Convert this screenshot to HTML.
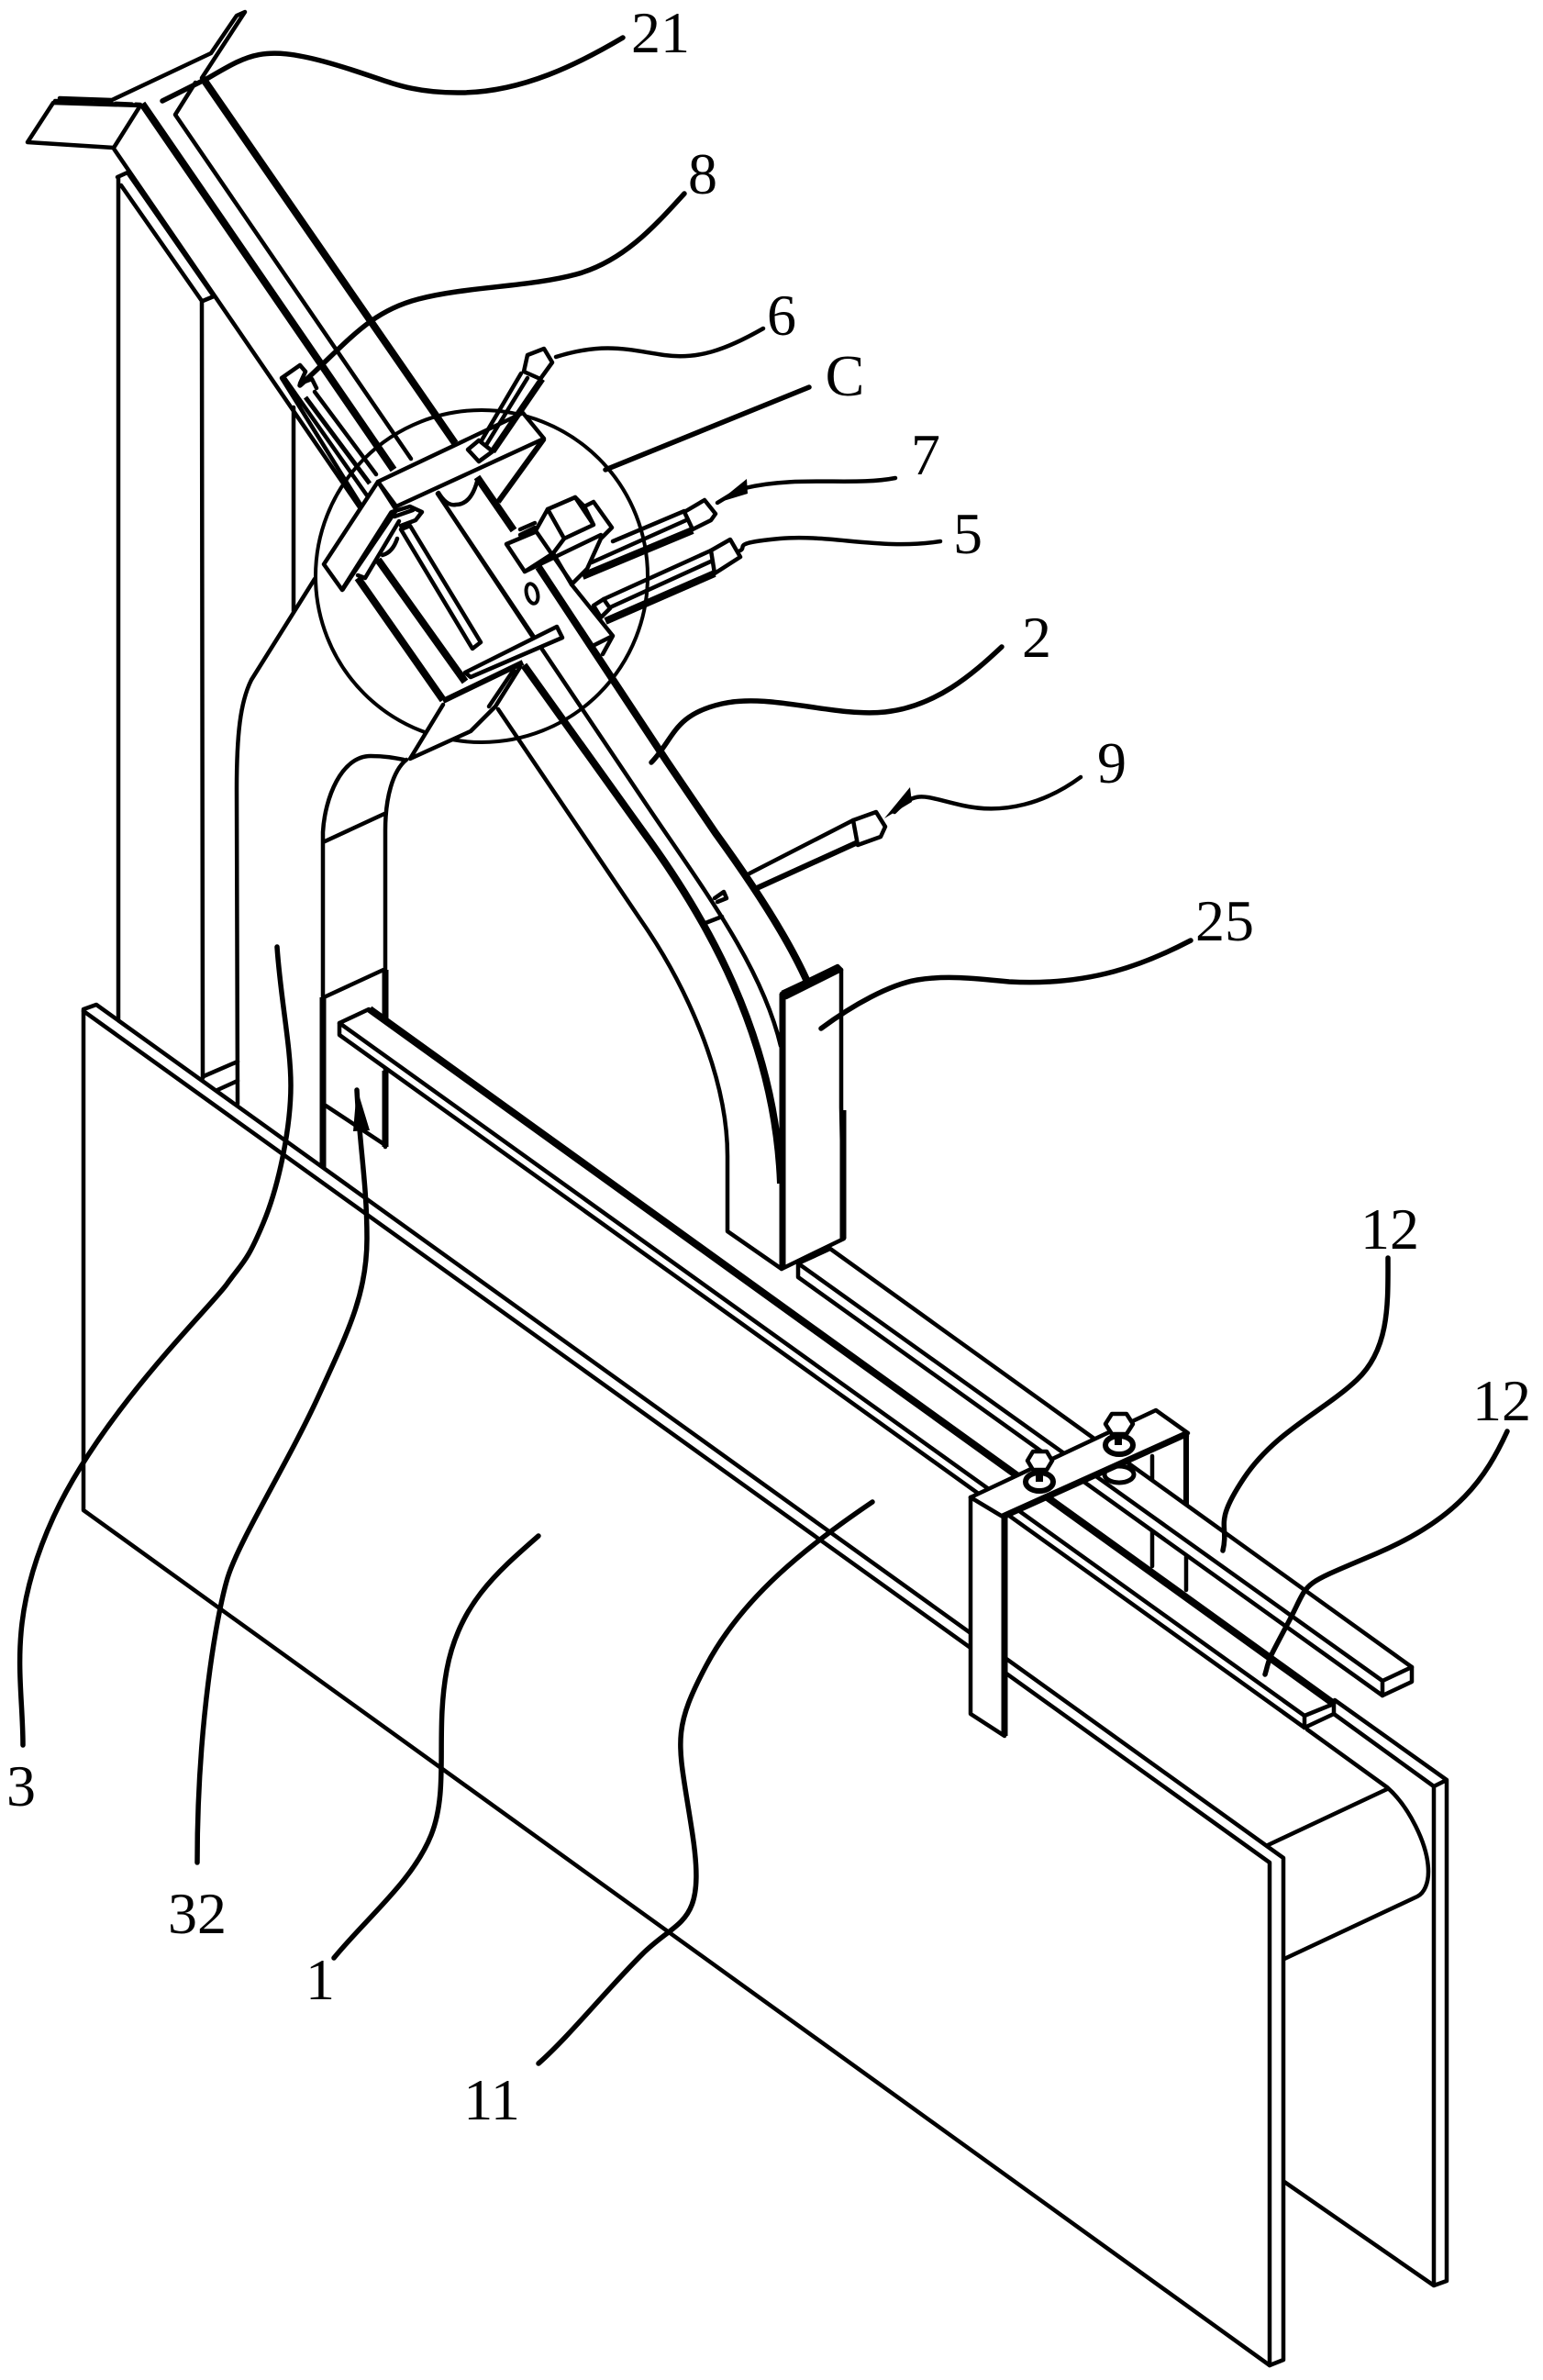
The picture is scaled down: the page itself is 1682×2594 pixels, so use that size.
<!DOCTYPE html>
<html><head><meta charset="utf-8"><style>
html,body{margin:0;padding:0;background:#fff}
svg{display:block}
text{font-family:"Liberation Serif",serif;font-size:64px;fill:#000;text-anchor:middle}
.t{fill:none;stroke:#000;stroke-width:4.5;stroke-linejoin:round;stroke-linecap:round}
.k{fill:none;stroke:#000;stroke-width:8;stroke-linejoin:round}
.w{fill:#fff;stroke:#000;stroke-width:4.5;stroke-linejoin:round}
.l{fill:none;stroke:#000;stroke-width:5.5;stroke-linecap:round}
</style></head><body>
<svg width="1682" height="2594" viewBox="0 0 1682 2594" xmlns="http://www.w3.org/2000/svg">
<rect width="1682" height="2594" fill="#fff"/>

<!-- back board -->
<path class="t" d="M1454 1868L1563 1947V2491L1577 2486V1940L1455 1853M1563 1947L1577 1940M1400 2378L1563 2491"/>
<path class="t" d="M1425 1885L1512 1948C1535 1968 1557 2010 1557 2040C1557 2052 1553 2063 1545 2067L1400 2135M1512 1950L1380 2012"/>

<!-- left columns -->
<path class="t" d="M128 193L139 188L233 323M129 193V1112M132 202L220 328L221 1175M221 328L233 323M222 1173L259 1157M237 1188L259 1178"/>
<path class="t" d="M320 444V666"/>
<path class="t" d="M343 631L274 741C262 765 258 800 258 860L259 1203"/>
<path class="t" d="M352 1087V907C354 870 372 824 404 824C420 824 430 826 440 828M443 828C428 840 420 870 420 905V1250M352 918L419 887M353 1087L418 1057M355 1205L420 1248"/>
<path class="k" style="stroke-width:7" d="M352 1087V1275M420 1167V1250M420 1057V1110"/>

<!-- main rail -->
<path class="t" d="M58 112L30 155L124 161L153 115ZM65 107L122 109M124 162L392 553M122 109L230 58L258 17L267 13L220 85"/>
<path class="t" d="M60 110L153 114" stroke-dasharray="18 4"/>
<path class="t" d="M191 125L213 90M191 125L448 500M477 538L700 870C760 960 830 1050 851 1140"/>
<path class="t" d="M543 773L700 1005C745 1070 793 1170 793 1260V1342L852 1383"/>
<path class="k" d="M155 113L429 512M571 725L700 905C770 1000 845 1130 851 1290"/>
<path class="k" d="M223 88L496 483M520 520L560 578M587 618L727 830L780 908C825 970 860 1025 880 1070"/>
<path class="t" d="M779 979L789 972L792 979L782 983M769 1006L787 999"/>

<!-- item 8 side bar -->
<path class="t" d="M307 412L327 398L333 405L327 418L340 413L345 423M307 412L393 550M310 412L400 540M343 427L410 517"/>
<path class="k" style="stroke-width:5" d="M333 433L403 527"/>

<!-- detail circle -->
<circle cx="525" cy="628" r="181" fill="none" stroke="#000" stroke-width="4"/>
<path class="l" d="M660 512L882 422"/>

<!-- rod 9 -->
<path class="t" d="M817 952L930 894"/>
<path class="k" style="stroke-width:6" d="M825 968L935 918"/>
<path class="w" d="M930 894L955 885L965 901L960 912L935 921Z"/>

<!-- rods 7, 5 -->
<path class="t" d="M668 590L746 557M645 613L748 567"/>
<path class="k" d="M635 628L755 578"/>
<path class="w" d="M746 558L768 545L780 560L775 567L755 577Z"/>
<path class="t" d="M658 653L775 600M665 662L779 610"/>
<path class="k" d="M660 677L779 625"/>
<path class="w" d="M775 600L796 588L807 607L779 625Z"/>
<path class="w" d="M647 660L658 653L665 663L655 673Z"/>

<!-- side block -->
<path class="t" d="M623 637L668 693L657 713M648 703L668 693"/>
<path class="t" d="M567 577L583 570M567 583L583 575"/>
<path class="w" d="M552 593L583 580L597 555L627 542L637 552L647 547L667 575L655 587L640 620L623 637L603 603L572 623Z"/>
<path class="t" d="M597 555L615 587L647 572L627 542M585 580L623 635M615 587L603 603M572 623L655 583M637 552L647 572"/>
<ellipse cx="580" cy="647" rx="6" ry="11" fill="#fff" stroke="#000" stroke-width="4" transform="rotate(-15 580 647)"/>

<!-- slider -->
<path d="M436 553L570 720L513 797L447 827L483 768L390 630Z" fill="#fff"/>
<path class="t" d="M477 538L580 693"/>
<path class="k" d="M390 630L483 763M412 610L507 743"/>
<path class="t" d="M437 577L515 707L524 700L447 573Z"/>
<path class="t" d="M483 768L447 827L513 797L540 770L567 727M533 770L560 730"/>
<path class="k" style="stroke-width:6" d="M483 764L570 722"/>
<path class="t" d="M507 733L607 683L613 695L513 738Z" style="fill:#fff"/>
<path class="t" d="M417 605Q428 602 433 587"/>

<!-- clamp -->
<path class="w" d="M412 525L570 450L593 478L432 552Z"/>
<path class="k" style="stroke-width:6" d="M593 478L543 547"/>
<path class="t" d="M478 537Q487 552 497 550Q513 550 520 525"/>
<path class="w" d="M412 525L353 615L373 643L432 556Z"/>
<path class="k" style="stroke-width:5" d="M373 643L427 558"/>
<path class="t" d="M390 627L398 630L435 568M427 558L447 552L460 558L453 567L437 573M430 563L450 556"/>

<!-- rod 6 -->
<path class="t" d="M568 407L525 480M575 412L530 485"/>
<path class="k" style="stroke-width:7" d="M591 413L537 492"/>
<path class="w" d="M575 387L593 380L602 395L589 413L571 405Z"/>
<path class="w" d="M510 490L522 480L537 492L522 503Z"/>

<!-- plate 25 -->
<path class="w" d="M852 1083L913 1053L917 1057V1207L920 1350L852 1383Z"/>
<path class="t" d="M857 1087L917 1057"/>
<path class="k" style="stroke-width:7" d="M853 1083V1383M853 1083L915 1054"/>
<path class="k" style="stroke-width:7" d="M919 1210V1350"/>

<!-- bracket right leg -->
<path class="k" style="stroke-width:6" d="M1293 1562V1642"/>
<path class="t" d="M1256 1587V1707M1293 1697V1733"/>

<!-- rail 2 -->
<path class="w" d="M905 1361L1539 1817V1833L1507 1848L870 1392V1377Z"/>
<path class="t" d="M870 1377L1507 1832L1539 1817M1507 1832V1848"/>

<!-- nuts under bracket -->
<ellipse cx="1220" cy="1607" rx="16" ry="9" fill="#fff" stroke="#000" stroke-width="5"/>
<ellipse cx="1137" cy="1647" rx="16" ry="9" fill="#fff" stroke="#000" stroke-width="5"/>

<!-- rail 1 -->
<path class="w" d="M402 1100L1454 1857V1868L1422 1883L370 1128V1115Z"/>
<path class="t" d="M370 1115L1422 1870L1454 1857M1422 1870V1883"/>
<path class="k" d="M403 1100L1454 1857"/>

<!-- front board -->
<path class="w" d="M91 1100L105 1095L1399 2025V2572L1384 2578L91 1646Z"/>
<path class="t" d="M91 1102L1384 2030V2578"/>

<!-- bracket -->
<path class="w" d="M1058 1632H1095V1892L1058 1868Z"/>
<path class="w" d="M1058 1632L1260 1537L1295 1562L1093 1653Z"/>
<path class="k" style="stroke-width:7" d="M1095 1653V1892M1093 1653L1295 1562"/>
<path class="t" d="M1058 1632L1093 1653"/>

<!-- bolts -->
<ellipse cx="1133" cy="1615" rx="15" ry="10" fill="#fff" stroke="#000" stroke-width="6"/>
<ellipse cx="1220" cy="1575" rx="15" ry="10" fill="#fff" stroke="#000" stroke-width="6"/>
<path class="k" d="M1133 1600V1615M1219 1560V1575"/>
<path class="w" d="M1120 1592L1126 1582H1141L1147 1592L1141 1602H1126Z"/>
<path class="w" d="M1205 1552L1212 1541H1228L1235 1552L1228 1563H1212Z"/>

<!-- leaders -->
<path class="l" d="M679 41C630 70 570 100 504 101S420 85 353 67S270 60 227 85L177 110"/>
<path class="l" d="M746 211C715 245 680 285 628 299S510 312 456 326S380 372 327 420"/>
<path class="l" d="M832 358C790 382 760 392 724 387S660 372 606 389" style="stroke-width:4.5"/>
<path class="l" d="M976 521C930 530 870 518 812 532M800 537L782 548" style="stroke-width:4.5"/>
<path d="M782 548L814 522L815 538Z"/>
<path class="l" d="M1025 590C960 600 905 582 850 587S815 596 807 600" style="stroke-width:4.5"/>
<path class="l" d="M1092 705C1060 735 1020 770 965 776S840 755 787 767S735 805 710 831"/>
<path class="l" d="M1178 847C1140 875 1095 888 1050 878S1000 860 975 885" style="stroke-width:4.5"/>
<path d="M964 892L992 858L994 874Z"/>
<path class="l" d="M1298 1025C1250 1050 1190 1075 1100 1070C1060 1066 1030 1063 1000 1068S930 1095 895 1121"/>
<path class="l" d="M1513 1371C1513 1420 1515 1470 1479 1504S1390 1560 1356 1611S1340 1660 1333 1690"/>
<path class="l" d="M1643 1560C1620 1610 1590 1655 1501 1693S1430 1720 1404 1769S1385 1805 1379 1825"/>
<path class="l" d="M302 1032C306 1090 317 1140 317 1183S305 1290 287 1333S265 1375 247 1400S110 1540 58 1654S25 1830 25 1902"/>
<path class="l" d="M389 1188C392 1250 400 1290 400 1350S380 1450 347 1522S260 1680 248 1720S215 1880 215 2030"/>
<path d="M389 1186L385 1233L403 1232Z"/>
<path class="l" d="M587 1674C540 1715 500 1750 487 1820S490 1950 470 2000S400 2090 364 2134"/>
<path class="l" d="M951 1637C880 1685 810 1740 770 1815S740 1900 755 2000S740 2090 700 2130S620 2220 587 2249"/>

<!-- labels -->
<text x="720" y="57">21</text>
<text x="766" y="211">8</text>
<text x="852" y="365">6</text>
<text x="921" y="431">C</text>
<text x="1009" y="517">7</text>
<text x="1055" y="603">5</text>
<text x="1130" y="716">2</text>
<text x="1212" y="853">9</text>
<text x="1335" y="1025">25</text>
<text x="1515" y="1361">12</text>
<text x="1637" y="1548">12</text>
<text x="23" y="1968">3</text>
<text x="215" y="2107">32</text>
<text x="349" y="2179">1</text>
<text x="536" y="2310">11</text>
</svg>
</body></html>
